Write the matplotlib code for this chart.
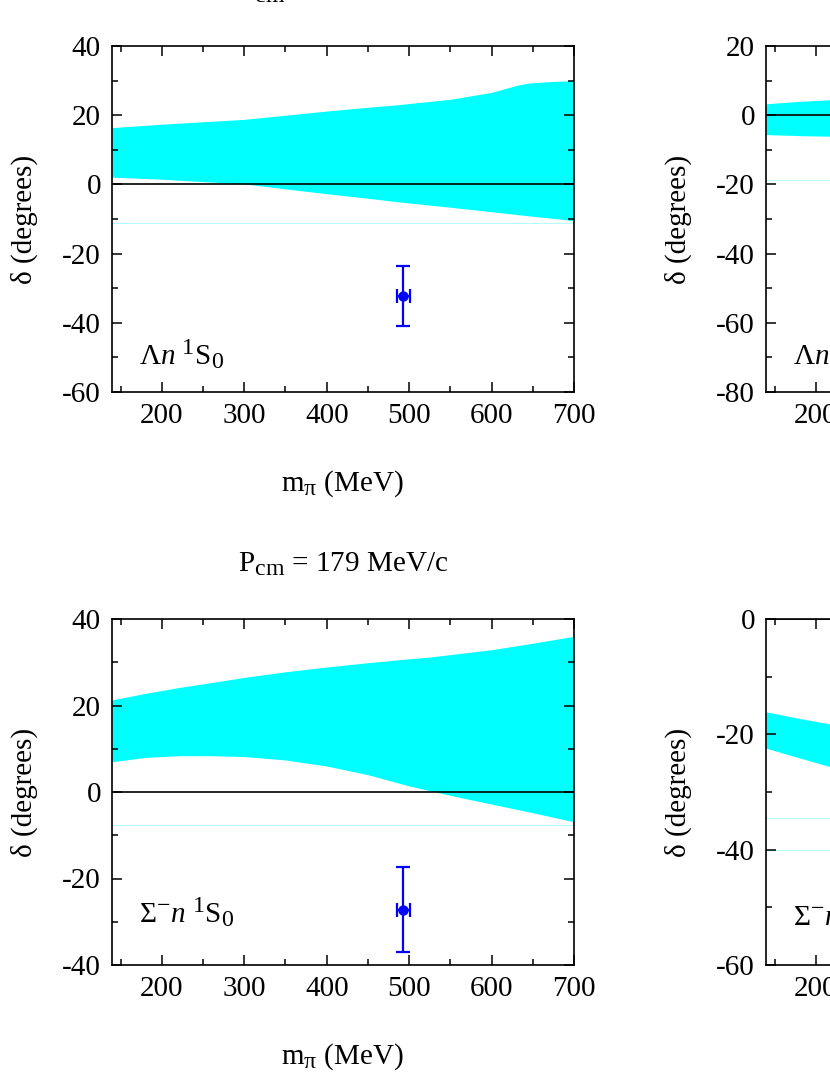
import matplotlib
matplotlib.use("Agg")
import matplotlib.pyplot as plt
from matplotlib.ticker import MultipleLocator
import matplotlib._mathtext as _mt

# larger sub/superscripts, closer to the reference's typesetting
_mt.SHRINK_FACTOR = 0.82

plt.rcParams.update({
    "font.family": "Liberation Serif",
    "mathtext.fontset": "custom",
    "mathtext.rm": "Liberation Serif",
    "mathtext.it": "Liberation Serif:italic",
    "mathtext.bf": "Liberation Serif:bold",
    "axes.unicode_minus": False,
    "font.size": 21,
})

# ---------------- data ----------------
m_pi_min = 139.57
m_pi_max = 700.0

# Lambda n 1S0 (top-left)
ln1s0_x = [139.57, 200, 250, 300, 350, 400, 450, 485, 550, 600, 615, 630, 645, 670, 700]
ln1s0_hi = [16.4, 17.4, 18.1, 18.8, 20.0, 21.2, 22.3, 23.0, 24.6, 26.6, 27.6, 28.6, 29.3, 29.7, 30.0]
ln1s0_lo = [2.1, 1.5, 0.8, 0.15, -1.3, -2.7, -4.0, -5.0, -6.6, -7.9, -8.3, -8.7, -9.1, -9.7, -10.5]
ln1s0_pt = (493.0, -32.3, 8.0, 8.6)   # m_pi, delta, x-err, y-err
ln1s0_faint = [-11.2]

# Lambda n 3S1 (top-right, partially visible)
ln3s1_x = [139.57, 180, 220, 260]
ln3s1_hi = [3.3, 4.0, 4.5, 5.0]
ln3s1_lo = [-5.6, -5.9, -6.1, -6.3]
ln3s1_faint = [-18.6]

# Sigma- n 1S0 (bottom-left)
sn1s0_x = [139.57, 180, 222, 260, 300, 350, 400, 450, 500, 525, 560, 600, 650, 700]
sn1s0_hi = [21.3, 22.8, 24.2, 25.3, 26.5, 27.8, 28.9, 29.9, 30.8, 31.2, 32.0, 32.9, 34.4, 36.0]
sn1s0_lo = [7.0, 8.0, 8.4, 8.4, 8.2, 7.4, 6.0, 4.0, 1.4, 0.3, -1.2, -2.8, -4.8, -6.9]
sn1s0_pt = (493.0, -27.2, 8.0, 9.8)
sn1s0_faint = [-7.7]

# Sigma- n 3S1 (bottom-right, partially visible)
sn3s1_x = [139.57, 178, 217, 260]
sn3s1_hi = [-16.1, -17.2, -18.2, -19.2]
sn3s1_lo = [-22.4, -24.0, -25.6, -27.4]
sn3s1_faint = [-34.5, -40.0]

x_major, x_minor = 100, 50

# ---------------- figure ----------------
W, H = 830, 1075
fig = plt.figure(figsize=(W / 100, H / 100), dpi=100)

def px_axes(left, top, right, bottom):
    return fig.add_axes([left / W, 1 - bottom / H, (right - left) / W, (bottom - top) / H])

ax_tl = px_axes(112, 46, 574, 392)
ax_tr = px_axes(766, 46, 1228, 392)
ax_bl = px_axes(112, 619, 574, 965)
ax_br = px_axes(766, 619, 1228, 965)

CYAN = "#00ffff"
FS = 21

def style(ax, ylim, ymaj, ymin):
    ax.set_xlim(m_pi_min, m_pi_max)
    ax.set_ylim(*ylim)
    ax.xaxis.set_major_locator(MultipleLocator(x_major))
    ax.xaxis.set_minor_locator(MultipleLocator(x_minor))
    ax.yaxis.set_major_locator(MultipleLocator(ymaj))
    ax.yaxis.set_minor_locator(MultipleLocator(ymin))
    ax.tick_params(which="both", direction="in", top=True, right=True,
                   width=1.1, labelsize=FS, pad=8)
    ax.tick_params(which="major", length=7)
    ax.tick_params(which="minor", length=4)
    for s in ax.spines.values():
        s.set_linewidth(1.2)
    ax.set_ylabel("δ (degrees)", fontsize=FS)
    ax.yaxis.set_label_coords(-0.16, 0.5)
    ax.set_xlabel(r"$\mathrm{m_{π}}$ (MeV)", fontsize=FS)
    ax.xaxis.set_label_coords(0.5, -0.222)
    ax.axhline(0, color="black", lw=1.2, zorder=3)

def band(ax, x, lo, hi, faint):
    ax.fill_between(x, lo, hi, color=CYAN, lw=0, zorder=1)
    for f in faint:
        ax.axhline(f, color=CYAN, lw=0.6, alpha=0.35, zorder=1)

def point(ax, pt):
    x, y, xe, ye = pt
    ax.errorbar([x], [y], xerr=[xe], yerr=[ye], fmt="o", color="#0000ff",
                ms=6.5, elinewidth=1.6, capsize=5, capthick=1.6, zorder=4)

# top-left
style(ax_tl, (-60, 40), 20, 10)
band(ax_tl, ln1s0_x, ln1s0_lo, ln1s0_hi, ln1s0_faint)
point(ax_tl, ln1s0_pt)
ax_tl.text(0.058, 0.078, r"$\Lambda\mathit{n}\ {}^{1}\mathrm{S}_{0}$", transform=ax_tl.transAxes,
           fontsize=FS, ha="left", va="baseline")
ax_tl.text(0.5, 1.136, r"$\mathrm{P_{cm}}$ = 197 MeV/c", transform=ax_tl.transAxes,
           fontsize=FS, ha="center", va="baseline")

# top-right
style(ax_tr, (-80, 20), 20, 10)
band(ax_tr, ln3s1_x, ln3s1_lo, ln3s1_hi, ln3s1_faint)
ax_tr.text(0.058, 0.078, r"$\Lambda\mathit{n}\ {}^{3}\mathrm{S}_{1}$", transform=ax_tr.transAxes,
           fontsize=FS, ha="left", va="baseline")

# bottom-left
style(ax_bl, (-40, 40), 20, 10)
band(ax_bl, sn1s0_x, sn1s0_lo, sn1s0_hi, sn1s0_faint)
point(ax_bl, sn1s0_pt)
ax_bl.text(0.058, 0.121, r"$\Sigma^{-}\mathit{n}\ {}^{1}\mathrm{S}_{0}$", transform=ax_bl.transAxes,
           fontsize=FS, ha="left", va="baseline")
ax_bl.text(0.5, 1.136, r"$\mathrm{P_{cm}}$ = 179 MeV/c", transform=ax_bl.transAxes,
           fontsize=FS, ha="center", va="baseline")

# bottom-right
style(ax_br, (-60, 0), 20, 10)
band(ax_br, sn3s1_x, sn3s1_lo, sn3s1_hi, sn3s1_faint)
ax_br.text(0.058, 0.112, r"$\Sigma^{-}\mathit{n}\ {}^{3}\mathrm{S}_{1}$", transform=ax_br.transAxes,
           fontsize=FS, ha="left", va="baseline")

fig.savefig("out.png", dpi=100)
